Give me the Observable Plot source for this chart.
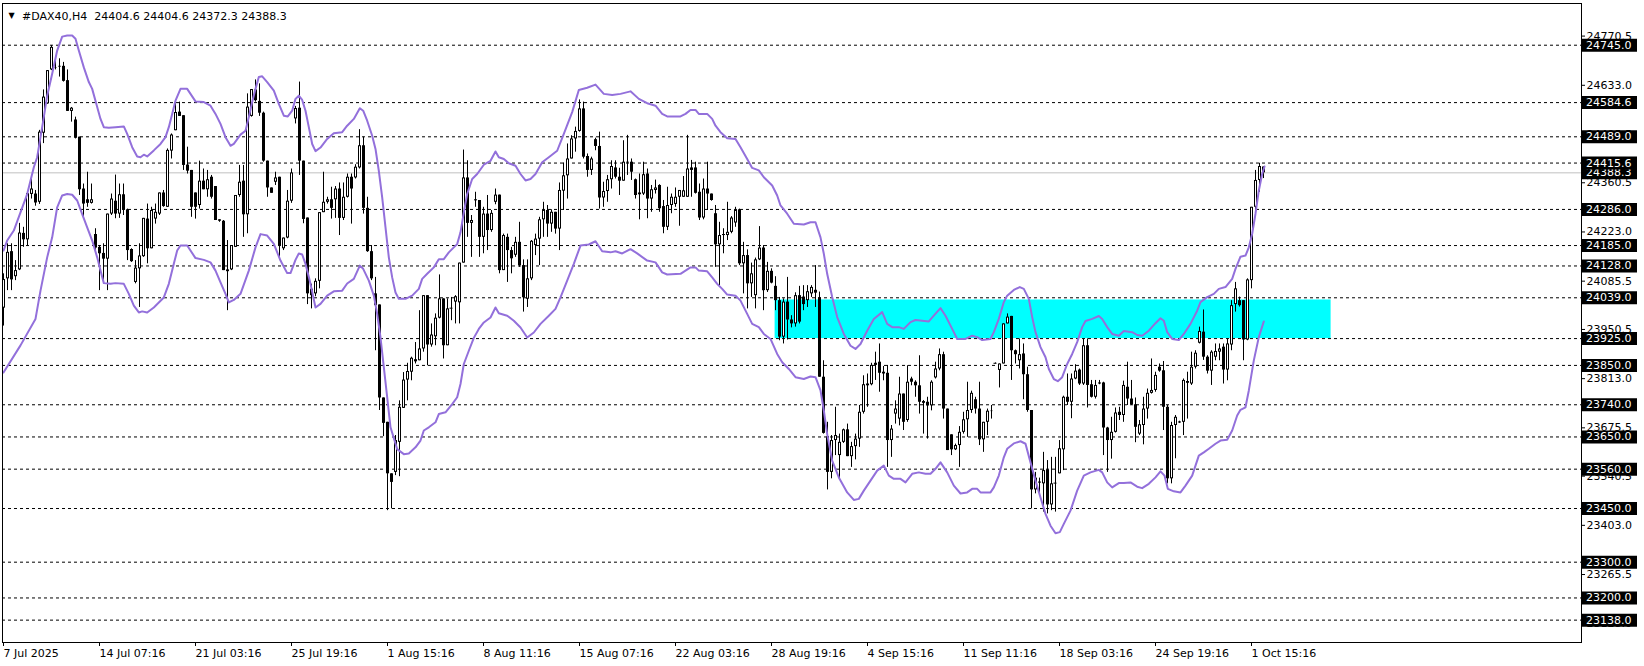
<!DOCTYPE html>
<html><head><meta charset="utf-8">
<script src="https://cdn.jsdelivr.net/npm/d3@7"></script>
<script src="https://cdn.jsdelivr.net/npm/@observablehq/plot@0.6"></script>
<style>
html,body{margin:0;padding:0;background:#fff;}
#chart svg{display:block;}
#chart svg text{white-space:pre;}
</style>
</head><body><div id="chart"></div>
<script>
const symbol = "#DAX40,H4";
const open = [
24010,24092,24168,24098,24117,24219,24201,24328,24329,24306,
24499,24581,24676,24682,24684,24686,24646,24560,24536,24488,
24343,24313,24303,24216,24180,24163,24147,24273,24309,24273,
24327,24285,24174,24082,24120,24154,24259,24176,24259,24273,
24332,24292,24449,24506,24558,24548,24410,24395,24332,24297,
24365,24341,24376,24350,24257,24253,24117,24117,24180,24325,
24365,24271,24546,24620,24588,24555,24421,24346,24362,24376,
24176,24206,24309,24539,24569,24421,24262,24063,24050,24085,
24277,24306,24313,24313,24343,24261,24320,24376,24374,24402,
24464,24289,24168,24050,24019,23759,23691,23547,23551,23635,
23730,23809,23831,23866,23863,23896,24045,23907,23930,23982,
24036,23905,24010,24027,24025,24136,24374,24247,24310,24311,
24208,24273,24227,24306,24326,24115,24208,24171,24158,24194,
24129,24035,24092,24185,24203,24257,24283,24245,24278,24231,
24337,24380,24427,24483,24504,24567,24434,24395,24481,24462,
24318,24336,24369,24402,24376,24365,24416,24418,24369,24327,
24329,24385,24315,24339,24353,24294,24236,24297,24300,24320,
24320,24320,24402,24402,24334,24262,24343,24329,24274,24187,
24216,24213,24222,24248,24285,24134,24157,24078,24045,24145,
24178,24059,24113,24071,24031,23929,24027,23977,23966,24045,
24041,24031,24050,24060,24039,23817,23651,23551,23640,23598,
23635,23670,23595,23623,23644,23719,23798,23796,23850,23859,
23831,23828,23640,23714,23700,23770,23696,23812,23803,23793,
23749,23747,23737,23815,23840,23880,23728,23656,23614,23626,
23663,23698,23724,23754,23728,23642,23691,23722,23856,23836,
23854,23966,23987,23891,23863,23882,23824,23724,23502,23521,
23519,23558,23460,23521,23547,23614,23761,23747,23812,23837,
23798,23905,23796,23761,23801,23801,23675,23640,23663,23719,
23710,23789,23756,23740,23658,23682,23728,23772,23780,23845,
23835,23733,23533,23682,23689,23691,23805,23798,23845,23912,
23943,23873,23834,23873,23887,23901,23837,23907,24020,24031,
24031,23921,24087,24292,24367,24404.6];
const high = [
24106,24190,24190,24143,24247,24236,24336,24371,24339,24507,
24620,24674,24744,24711,24707,24697,24676,24571,24544,24488,
24357,24390,24357,24232,24185,24190,24273,24329,24382,24357,
24357,24287,24176,24143,24190,24261,24301,24292,24301,24332,
24339,24455,24497,24586,24586,24548,24460,24395,24332,24421,
24399,24395,24381,24350,24257,24255,24199,24185,24325,24409,
24409,24609,24621,24648,24637,24558,24421,24346,24390,24376,
24206,24339,24399,24574,24642,24421,24262,24077,24092,24277,
24390,24320,24348,24350,24360,24360,24385,24385,24411,24509,
24488,24320,24185,24096,24019,23759,23691,23547,23654,23751,
23830,23856,23873,23914,24003,24045,24045,23966,23994,24103,
24036,24036,24040,24045,24136,24452,24422,24269,24334,24311,
24292,24325,24283,24343,24326,24217,24217,24180,24208,24250,
24145,24145,24199,24217,24264,24306,24297,24285,24278,24360,
24416,24469,24492,24516,24592,24586,24441,24432,24485,24502,
24362,24381,24422,24422,24401,24478,24493,24427,24371,24385,
24418,24399,24353,24368,24355,24311,24348,24329,24346,24339,
24378,24493,24423,24418,24357,24371,24418,24329,24297,24250,
24232,24306,24266,24292,24287,24194,24173,24136,24150,24238,
24185,24138,24120,24098,24040,24036,24096,23989,24053,24071,
24073,24073,24073,24129,24055,23863,23691,23654,23733,23658,
23672,23686,23635,23658,23738,23821,23826,23856,23887,23910,
23847,23850,23682,23751,23817,23770,23849,23817,23807,23877,
23752,23761,23807,23859,23896,23887,23728,23656,23630,23679,
23719,23803,23778,23761,23803,23691,23728,23738,23857,23854,
23966,23994,23987,23893,23924,23910,23845,23724,23551,23535,
23607,23584,23593,23593,23640,23764,23826,23826,23852,23840,
23924,23924,23808,23808,23808,23803,23677,23705,23731,23733,
23806,23859,23808,23759,23696,23761,23784,23868,23831,23854,
23861,23738,23691,23710,23694,23812,23831,23887,23891,23957,
24005,23877,23891,23910,23910,23910,23924,24031,24082,24041,
24031,24092,24292,24395,24415,24404.6];
const low = [
23960,24059,24059,24087,24115,24180,24185,24315,24295,24300,
24470,24580,24674,24676,24656,24642,24560,24530,24483,24325,
24260,24292,24301,24162,24059,24082,24059,24269,24260,24261,
24269,24143,24138,24078,24012,24152,24134,24176,24245,24269,
24292,24292,24427,24506,24546,24395,24385,24264,24259,24287,
24341,24320,24315,24255,24250,24115,24003,24115,24180,24320,
24208,24218,24544,24586,24546,24418,24320,24331,24353,24145,
24171,24204,24303,24525,24381,24246,24020,24008,24042,24064,
24277,24301,24259,24261,24213,24255,24318,24245,24371,24399,
24273,24166,24087,23891,23724,23651,23444,23449,23542,23539,
23730,23751,23807,23854,23863,23887,23849,23901,23905,23980,
23868,23905,23975,23966,23966,24136,24208,24152,24292,24152,
24162,24171,24222,24299,24106,24115,24082,24106,24152,24124,
23999,24012,24087,24157,24129,24208,24208,24222,24217,24171,
24283,24315,24427,24446,24502,24427,24376,24381,24450,24287,
24292,24306,24343,24371,24325,24365,24381,24367,24315,24257,
24325,24260,24278,24329,24278,24218,24227,24274,24292,24239,
24320,24320,24320,24329,24255,24257,24283,24309,24124,24073,
24162,24199,24218,24236,24129,24050,24008,24040,24008,24143,
24003,24054,24078,24003,23919,23910,23921,23955,23957,23966,
24003,24012,24040,24012,23817,23658,23502,23533,23598,23530,
23632,23595,23565,23586,23621,23714,23733,23793,23808,23775,
23807,23565,23593,23686,23681,23668,23691,23793,23761,23714,
23658,23644,23723,23812,23835,23700,23612,23598,23612,23565,
23658,23649,23716,23714,23626,23607,23654,23700,23854,23787,
23854,23966,23808,23854,23840,23754,23719,23449,23491,23491,
23440,23435,23444,23440,23547,23556,23738,23701,23810,23794,
23794,23731,23759,23756,23796,23598,23551,23588,23661,23696,
23691,23738,23738,23634,23654,23628,23700,23770,23775,23831,
23668,23519,23519,23589,23688,23654,23700,23794,23840,23910,
23864,23826,23794,23863,23863,23798,23807,23891,23999,24013,
23863,23919,24064,24278,24334,24372.3];
const close = [
24090,24166,24089,24115,24220,24201,24330,24343,24304,24502,
24600,24674,24739,24681,24686,24644,24560,24569,24485,24341,
24301,24303,24313,24178,24162,24147,24273,24315,24273,24327,
24285,24171,24140,24122,24156,24261,24176,24283,24278,24332,
24294,24451,24494,24557,24546,24409,24393,24292,24292,24365,
24341,24369,24320,24255,24253,24115,24112,24185,24325,24362,
24271,24572,24621,24590,24555,24421,24346,24331,24374,24185,
24206,24309,24388,24568,24421,24258,24050,24045,24085,24277,
24306,24313,24289,24343,24261,24320,24376,24343,24404,24464,
24289,24168,24092,24017,23759,23688,23547,23523,23640,23733,
23809,23833,23870,23860,23896,24045,23907,23935,23982,24036,
23905,24008,24010,24042,24136,24374,24247,24255,24313,24208,
24273,24227,24275,24326,24115,24213,24171,24148,24194,24129,
24039,24092,24197,24203,24257,24283,24245,24278,24231,24339,
24380,24427,24483,24504,24567,24432,24395,24427,24462,24318,
24336,24369,24406,24376,24365,24418,24418,24390,24325,24332,
24383,24315,24341,24346,24288,24236,24297,24320,24320,24339,
24338,24399,24395,24331,24262,24343,24329,24311,24187,24213,
24213,24222,24262,24283,24134,24157,24078,24106,24145,24178,
24059,24113,24080,24031,23929,24027,23977,23966,24045,23971,
24020,24056,24068,24052,23817,23660,23551,23640,23654,23635,
23670,23595,23623,23644,23719,23796,23793,23850,23856,23828,
23826,23640,23672,23728,23770,23691,23803,23803,23793,23747,
23744,23737,23803,23840,23880,23728,23612,23614,23626,23663,
23698,23724,23772,23728,23642,23691,23722,23721,23856,23854,
23966,23985,23891,23880,23880,23824,23724,23502,23535,23524,
23556,23460,23519,23521,23617,23761,23747,23812,23834,23798,
23905,23794,23761,23794,23798,23675,23640,23663,23717,23710,
23794,23756,23740,23677,23684,23728,23772,23780,23822,23834,
23733,23533,23682,23705,23692,23808,23800,23845,23884,23945,
23873,23834,23887,23889,23896,23837,23910,24017,24064,24017,
23921,24089,24292,24367,24406,24388.3];

// Bollinger band vertices (bar index, price)
const upperIdx = [0,0.92,2.58,4.25,5.92,7.58,8.42,9.25,10.08,10.92,12.17,13.42,14.67,15.92,17.17,18,18.83,20.08,21.33,22.17,23.42,24.25,25.08,26.33,28,30.08,30.92,32.17,33.42,34.25,35.08,35.92,37.58,39.25,40.5,41.33,42.17,43,44.25,45.92,48,50.08,51.75,53,54.25,55.5,56.75,57.58,59.25,60.5,61.33,62.17,63,63.83,64.67,65.92,67.58,68.83,70.08,71.08,72.17,73,73.83,74.67,75.5,76.33,77.17,78,79.25,80.92,82.58,84.67,85.92,87.58,89.08,89.92,90.92,92.17,93,93.83,94.67,95.5,96.33,97.17,98,98.83,100.5,102.17,103.83,104.67,105.92,107.58,108.83,110.08,111.33,112.58,113.42,114.25,115.08,115.92,117.17,118.42,120.08,121.75,123,123.83,125.08,126.33,128,129.25,130.5,131.75,133,134.67,136.33,138.42,140.08,142.17,143.83,145.92,148,150.08,152.17,154.25,156.75,158.83,160.92,163,164.67,165.92,169.25,170.5,171.75,173,173.83,175.92,177.17,178,179.25,180.92,183,184.25,185.92,187.17,188.83,190.08,192.17,193.42,194.25,195.92,197.58,200.08,201.75,203,204.25,205.08,205.92,207.17,208.42,210.08,211.75,213,214.25,215.92,217.58,219.67,220.92,222.17,223.83,225.08,226.75,228,229.67,231.33,232.58,234.25,235.5,237.17,238.42,240.5,242.17,243.42,244.67,246.75,247.58,248.83,250.08,250.92,252.58,254.08,255.08,256.33,257.17,258,259.25,260.5,261.33,262.58,263.58,264.67,265.92,267.17,268.42,269.67,270.5,272.17,273.83,274.67,275.92,277.17,278.83,280.08,282.17,283.42,284.67,286.33,288,289.25,290.08,290.92,292.17,293.83,295.08,296.75,298.42,299.25,300.92,302.58,303.83,305.5,307.17,308,309.25,310.5,311.33,312.17,313,313.83,314.67,315.25];
const upperVal = [24171,24199,24227,24278,24329,24404,24432,24488,24544,24604,24665,24730,24769,24772,24772,24763,24730,24683,24642,24623,24572,24539,24516,24514,24516,24518,24497,24460,24434,24432,24439,24434,24451,24469,24488,24516,24553,24590,24623,24623,24588,24586,24576,24553,24525,24488,24464,24469,24495,24506,24544,24586,24623,24656,24658,24642,24618,24581,24548,24546,24562,24595,24604,24592,24562,24516,24469,24449,24459,24483,24499,24502,24520,24539,24569,24562,24534,24492,24455,24394,24320,24236,24152,24096,24054,24036,24036,24045,24064,24092,24106,24124,24147,24147,24166,24180,24189,24222,24278,24329,24371,24385,24411,24422,24448,24432,24427,24415,24408,24385,24367,24371,24385,24418,24432,24450,24497,24558,24620,24626,24635,24609,24606,24609,24616,24595,24583,24576,24553,24546,24546,24553,24564,24564,24553,24553,24539,24520,24502,24485,24483,24460,24427,24402,24395,24376,24353,24325,24297,24274,24246,24244,24250,24250,24208,24162,24106,24041,23985,23938,23905,23896,23910,23947,23980,23999,23966,23957,23957,23952,23971,23977,23975,23973,23989,24010,23989,23952,23924,23924,23933,23929,23921,23924,23943,23980,24027,24045,24061,24069,24064,24036,23985,23943,23901,23873,23840,23812,23806,23817,23854,23882,23915,23957,23974,23980,23988,23980,23957,23938,23933,23946,23943,23935,23933,23947,23968,23982,23975,23943,23924,23921,23938,23966,24003,24027,24041,24050,24064,24069,24092,24120,24154,24157,24180,24218,24274,24339,24385,24406];
const lowerIdx = [0,4.25,8,9.25,10.92,12.17,13.42,14.67,15.92,17.17,18.42,19.67,20.92,22.17,23.42,24.25,25.08,26.75,28,30.08,31.33,32.58,33.83,34.67,35.92,37.58,40.08,41.33,42.58,43.42,44.25,45.92,48,50.08,51.75,53,54.25,55.5,56.33,57.58,59.25,61.33,63,64.25,65.92,67.58,69.25,70.92,71.75,73,73.83,74.67,75.5,76.75,78,79.25,80.92,82.58,84.67,85.92,87.58,89.08,89.92,91.33,92.58,93.42,94.25,95.08,95.92,96.75,98.42,100.08,101.33,103,104.25,105.08,106.33,108,108.83,110.5,112.17,113.42,114.25,115.08,116.33,117.58,118.83,120.08,121.75,123,123.83,125.92,127.58,129.25,130.92,132.58,134.25,136.33,138,139.25,140.92,142.58,144.25,146.33,148,149.67,151.75,153,154.67,156.75,158.42,160.92,163,164.67,165.92,169.25,170.5,171.75,173,173.83,175.92,177.17,178.42,179.67,180.92,183,184.25,185.92,187.17,188.83,190.08,191.75,193.42,194.67,196.33,198,200.08,201.75,203,204.25,205.08,205.92,207.17,208.83,210.92,212.58,213.83,215.08,216.75,218.42,220.08,221.33,222.58,224.25,225.5,227.17,228.83,230.5,231.75,233,234.25,235.92,237.58,239.25,240.92,242.17,243.42,244.25,246.75,247.58,248.83,250.08,250.92,252.58,254.25,255.5,256.75,258,259.25,260.5,261.75,263,264.08,265.08,266.75,268.42,270.08,271.75,273.83,274.67,275.92,277.17,278.83,280.08,281.75,283.42,284.67,286.33,288,289.25,290.25,291.08,292.58,294.25,295.5,297.17,298.83,300.08,301.33,303,304.25,305.92,307.17,308.42,309.25,310.5,311.33,312.58,313.83,315.08];
const lowerVal = [23830,23906,23980,24059,24152,24208,24292,24325,24329,24327,24311,24273,24236,24199,24152,24115,24080,24078,24080,24078,24050,24017,23998,24001,23998,24012,24040,24078,24134,24171,24185,24185,24150,24145,24138,24115,24082,24050,24026,24033,24050,24115,24180,24217,24213,24190,24143,24108,24108,24145,24163,24160,24134,24078,24012,24022,24045,24057,24059,24079,24092,24129,24120,24087,24045,23994,23928,23845,23761,23677,23616,23602,23604,23621,23640,23668,23677,23691,23714,23719,23742,23761,23798,23854,23891,23927,23952,23970,23984,24012,23996,23989,23975,23956,23928,23942,23966,23989,24008,24040,24087,24134,24185,24188,24197,24169,24166,24169,24163,24175,24163,24143,24138,24110,24104,24106,24115,24124,24124,24115,24113,24096,24078,24064,24048,24045,24031,23994,23966,23957,23938,23924,23882,23859,23840,23817,23812,23819,23817,23780,23724,23658,23584,23537,23495,23474,23477,23500,23528,23556,23570,23542,23533,23533,23523,23547,23551,23547,23547,23561,23579,23551,23514,23492,23495,23505,23505,23495,23495,23509,23542,23593,23617,23632,23638,23631,23579,23528,23481,23435,23402,23381,23384,23407,23444,23500,23542,23551,23558,23551,23523,23509,23521,23521,23523,23511,23507,23519,23537,23554,23542,23505,23498,23495,23514,23542,23598,23607,23617,23631,23640,23642,23668,23710,23726,23733,23780,23864,23929,23973];

const levels = [24745.0,24584.6,24489.0,24415.6,24286.0,24185.0,24128.0,24039.0,23925.0,23850.0,23740.0,23650.0,23560.0,23450.0,23300.0,23200.0,23138.0];
const bidPrice = 24388.3;
const zone = {start: 192.9, end: 331.9, bottom: 23925, top: 24033};
const yTicks = [24770.5,24633.0,24495.5,24360.5,24223.0,24085.5,23950.5,23813.0,23675.5,23540.5,23403.0,23265.5,23128.0];
const dateIdx = [0,24,48,72,96,120,144,168,192,216,240,264,288,312];
const dateLabels = ["7 Jul 2025","14 Jul 07:16","21 Jul 03:16","25 Jul 19:16","1 Aug 15:16","8 Aug 11:16","15 Aug 07:16","22 Aug 03:16","28 Aug 19:16","4 Sep 15:16","11 Sep 11:16","18 Sep 03:16","24 Sep 19:16","1 Oct 15:16"];

// layout
const W = 1644, H = 666;
const xDomain = [-0.25, 394.5];
const yDomain = [23075.5, 24861.6];
const boxLeft = 394.5, boxRight = 408.5;
const pricePerPx = (yDomain[1] - yDomain[0]) / (H - 3 - 24);

const bars = open.map((o, i) => ({i, o, h: high[i], l: low[i], c: close[i], top: Math.max(o, close[i]), bot: Math.min(o, close[i])}));
const upper = upperIdx.map((x, k) => ({x, v: upperVal[k]}));
const lower = lowerIdx.map((x, k) => ({x, v: lowerVal[k]}));
const last = bars[bars.length - 1];
const titleText = `${symbol}  ${last.o.toFixed(1)} ${last.h.toFixed(1)} ${last.l.toFixed(1)} ${last.c.toFixed(1)}`;

const chart = Plot.plot({
  width: W, height: H,
  marginLeft: 2, marginRight: 63, marginTop: 3, marginBottom: 24,
  x: {domain: xDomain},
  y: {domain: yDomain},
  style: {fontFamily: "DejaVu Sans, sans-serif", fontSize: "11px", background: "#fff", color: "#000"},
  marks: [
    Plot.rect([zone], {x1: "start", x2: "end", y1: "bottom", y2: "top", fill: "#00ffff"}),
    Plot.ruleY(levels, {stroke: "#000", strokeWidth: 1, strokeDasharray: "3,3"}),
    Plot.ruleY([bidPrice], {stroke: "#c0c0c0", strokeWidth: 1}),
    // wicks
    Plot.ruleX(bars, {x: "i", y1: "h", y2: "l", stroke: "#000", strokeWidth: 1}),
    // bodies (3px wide)
    Plot.ruleX(bars.filter(d => d.top > d.bot), {x: "i", y1: "top", y2: "bot", stroke: "#000", strokeWidth: 3}),
    // hollow interior of rising candles
    Plot.ruleX(bars.filter(d => d.c > d.o && (d.c - d.o) > 2.2 * pricePerPx), {x: "i", y1: "top", y2: "bot", stroke: "#fff", strokeWidth: 1, insetTop: 1, insetBottom: 1}),
    // doji
    Plot.ruleY(bars.filter(d => d.o === d.c), {y: "o", x1: d => d.i - 0.375, x2: d => d.i + 0.375, stroke: "#000"}),
    Plot.line(upper, {x: "x", y: "v", stroke: "#9370db", strokeWidth: 2}),
    Plot.line(lower, {x: "x", y: "v", stroke: "#9370db", strokeWidth: 2}),
    Plot.frame({stroke: "#000"}),
    Plot.axisX(dateIdx, {anchor: "bottom", tickSize: 4, tickPadding: 3, textAnchor: "start",
      tickFormat: d => dateLabels[dateIdx.indexOf(d)], label: null}),
    Plot.axisY(yTicks, {anchor: "right", tickSize: 3, tickPadding: 2, tickFormat: d => d.toFixed(1), label: null}),
    Plot.ruleY([bidPrice], {x1: () => boxLeft, x2: () => boxRight, stroke: "#000", strokeWidth: 13}),
    Plot.text([bidPrice], {x: () => boxLeft, y: d => d, text: d => d.toFixed(1), fill: "#fff", textAnchor: "start", dx: 4.5}),
    Plot.ruleY(levels, {x1: () => boxLeft, x2: () => boxRight, stroke: "#000", strokeWidth: 13}),
    Plot.text(levels, {x: () => boxLeft, y: d => d, text: d => d.toFixed(1), fill: "#fff", textAnchor: "start", dx: 4.5}),
    Plot.text(["\u25BC"], {text: d => d, frameAnchor: "top-left", dx: 9, dy: 9, fontSize: 8, textAnchor: "middle"}),
    Plot.text([titleText], {text: d => d, frameAnchor: "top-left", dx: 19.5, dy: 9, textAnchor: "start", fill: "#000"})
  ]
});
document.getElementById("chart").appendChild(chart);
</script>
</body></html>
